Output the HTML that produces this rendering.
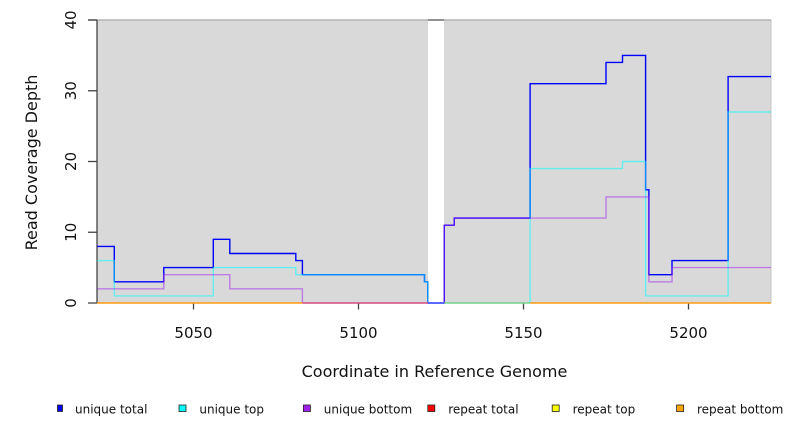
<!DOCTYPE html>
<html><head><meta charset="utf-8"><style>
html,body{margin:0;padding:0;background:#fff;}
svg{display:block;}
text{font-family:"DejaVu Sans","Liberation Sans",sans-serif;fill:#111;}
</style></head><body>
<svg width="792" height="432" viewBox="0 0 792 432" xmlns="http://www.w3.org/2000/svg">
<rect x="0" y="0" width="792" height="432" fill="#fff"/>
<!-- shaded panels -->
<rect x="97" y="20" width="331" height="283" fill="#d9d9d9"/>
<rect x="444" y="20" width="327" height="283" fill="#d9d9d9"/>
<line x1="771" y1="20" x2="771" y2="303" stroke="#c4c4c4" stroke-width="1"/>
<!-- top line -->
<line x1="88" y1="20" x2="771" y2="20" stroke="#b2b2b2" stroke-width="1.6"/>
<line x1="428" y1="20" x2="444" y2="20" stroke="#808080" stroke-width="1.6"/>
<!-- y axis -->
<line x1="97" y1="20" x2="97" y2="303" stroke="#444" stroke-width="1.3"/>
<g stroke="#444" stroke-width="1.3">
<line x1="88" y1="20" x2="97" y2="20"/>
<line x1="88" y1="90.75" x2="97" y2="90.75"/>
<line x1="88" y1="161.5" x2="97" y2="161.5"/>
<line x1="88" y1="232.25" x2="97" y2="232.25"/>
<line x1="88" y1="303" x2="97" y2="303"/>
<line x1="193.5" y1="303" x2="193.5" y2="309.5"/>
<line x1="358.5" y1="303" x2="358.5" y2="309.5"/>
<line x1="523.5" y1="303" x2="523.5" y2="309.5"/>
<line x1="688.5" y1="303" x2="688.5" y2="309.5"/>
</g>
<!-- y tick labels -->
<g font-size="15" text-anchor="middle">
<text transform="translate(76,20) rotate(-90)">40</text>
<text transform="translate(76,90.75) rotate(-90)">30</text>
<text transform="translate(76,161.5) rotate(-90)">20</text>
<text transform="translate(76,232.25) rotate(-90)">10</text>
<text transform="translate(76,303) rotate(-90)">0</text>
</g>
<!-- x tick labels -->
<g font-size="15" text-anchor="middle">
<text x="193.5" y="338">5050</text>
<text x="358.5" y="338">5100</text>
<text x="523.5" y="338">5150</text>
<text x="688.5" y="338">5200</text>
</g>
<!-- axis titles -->
<text x="434.5" y="377" font-size="16" text-anchor="middle">Coordinate in Reference Genome</text>
<text transform="translate(37,162.5) rotate(-90)" font-size="16" text-anchor="middle">Read Coverage Depth</text>
<!-- unique total -->
<path d="M97,246.4 H114.3 V281.8 H163.8 V267.6 H213.3 V239.3 H229.8 V253.5 H295.8 V260.55 H302.4 V274.7 H424.5 V281.8 H427.8 V303 H444.3 V225.2 H454.2 V218.1 H530.1 V83.7 H606 V62.45 H622.5 V55.4 H645.6 V189.8 H648.9 V274.7 H672 V260.55 H728.1 V76.6 H771" fill="none" stroke="#0000ff" stroke-width="1.4"/>
<!-- unique top -->
<path d="M97,260.55 H114.3 V295.9 H213.3 V267.6 H295.8 V274.7 H424.5 V281.8 H427.8 V303 M530.1,303 V168.6 H622.5 V161.5 H645.6 V295.9 H728.1 V112 H771" fill="none" stroke="#00ffff" stroke-opacity="0.55" stroke-width="1.4"/>
<!-- unique bottom -->
<path d="M97,288.85 H163.8 V274.7 H229.8 V288.85 H302.4 V303 M444.3,303 V225.2 H454.2 V218.1 H606 V196.9 H648.9 V281.8 H672 V267.6 H771" fill="none" stroke="#a020f0" stroke-opacity="0.5" stroke-width="1.4"/>
<!-- zero lines (repeat series) -->
<g stroke-width="1.5" fill="none">
<line x1="97" y1="303" x2="302.4" y2="303" stroke="#ff9a10"/>
<line x1="302.4" y1="303" x2="428" y2="303" stroke="#d84a80"/>
<line x1="428" y1="303" x2="444.3" y2="303" stroke="#5060ff"/>
<line x1="444.3" y1="303" x2="530.1" y2="303" stroke="#72d48e"/>
<line x1="530.1" y1="303" x2="771" y2="303" stroke="#ff9a10"/>
</g>
<!-- legend -->
<g stroke="#222" stroke-width="0.8">
<rect x="57.5" y="405" width="5" height="6.5" fill="#0000ff"/>
<rect x="179" y="405" width="7" height="6.5" fill="#00ffff"/>
<rect x="303.4" y="405" width="7" height="6.5" fill="#a020f0"/>
<rect x="427.8" y="405" width="7" height="6.5" fill="#ff0000"/>
<rect x="552.2" y="405" width="7" height="6.5" fill="#ffff00"/>
<rect x="676.6" y="405" width="7" height="6.5" fill="#ffa500"/>
</g>
<g font-size="12">
<text x="75" y="413.5">unique total</text>
<text x="199.4" y="413.5">unique top</text>
<text x="323.8" y="413.5">unique bottom</text>
<text x="448.2" y="413.5">repeat total</text>
<text x="572.6" y="413.5">repeat top</text>
<text x="697" y="413.5">repeat bottom</text>
</g>
</svg>
</body></html>
